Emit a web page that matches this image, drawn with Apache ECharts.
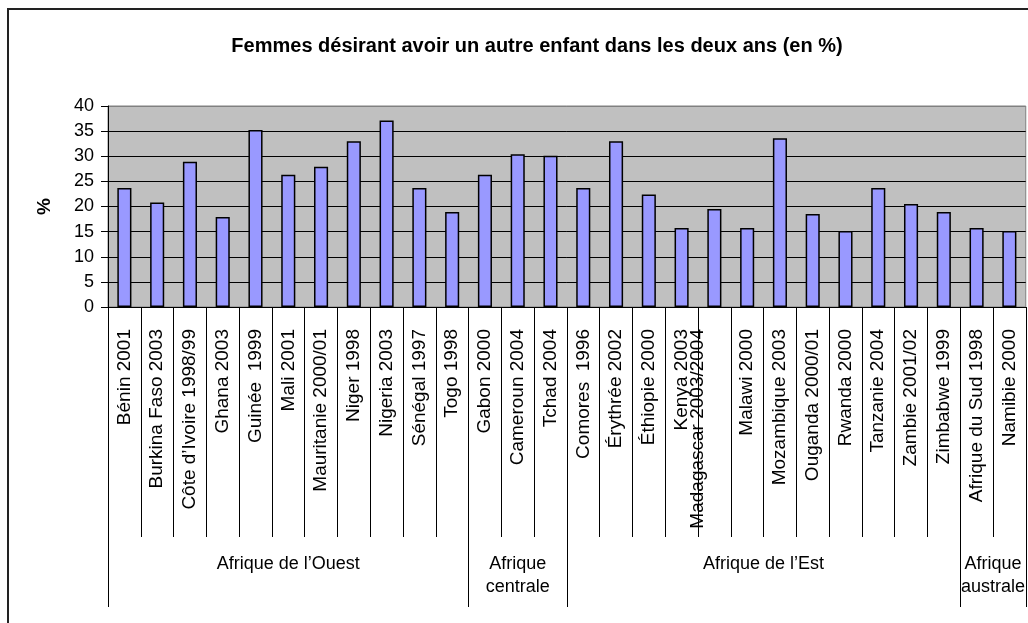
<!DOCTYPE html>
<html>
<head>
<meta charset="utf-8">
<script src="https://cdn.jsdelivr.net/npm/echarts@6/dist/echarts.min.js"></script>
<style>
  html, body { margin: 0; padding: 0; background: #fff; }
  #chart { width: 1028px; height: 623px; }
</style>
</head>
<body>
<div id="chart"></div>
<script>
const categories = [
  'Bénin 2001', 'Burkina Faso 2003', 'Côte d\u2019Ivoire 1998/99', 'Ghana 2003', 'Guinée  1999',
  'Mali 2001', 'Mauritanie 2000/01', 'Niger 1998', 'Nigeria 2003', 'Sénégal 1997', 'Togo 1998',
  'Gabon 2000', 'Cameroun 2004', 'Tchad 2004',
  'Comores  1996', 'Érythrée 2002', 'Éthiopie 2000', 'Kenya 2003', 'Madagascar 2003/2004',
  'Malawi 2000', 'Mozambique 2003', 'Ouganda 2000/01', 'Rwanda 2000', 'Tanzanie 2004',
  'Zambie 2001/02', 'Zimbabwe 1999',
  'Afrique du Sud 1998', 'Namibie 2000'
];
const values = [
  23.7, 20.8, 28.9, 17.9, 35.2, 26.3, 27.9, 33.0, 37.1, 23.7, 18.9,
  26.3, 30.4, 30.1,
  23.7, 33.0, 22.4, 15.7, 19.5, 15.7, 33.6, 18.5, 15.1, 23.7, 20.5, 18.9,
  15.7, 15.1
];
const groupNames = ['Afrique de l\u2019Ouest', 'Afrique\ncentrale', 'Afrique de l\u2019Est', 'Afrique\naustrale'];
const groupBounds = [0, 11, 14, 26, 28];
const groupCenters = [5.5, 12.5, 20, 27];
const catBounds = categories.map((c, i) => i).concat([categories.length]);
const yTicks = [0, 5, 10, 15, 20, 25, 30, 35, 40];

const font = 'Liberation Sans, Arial, sans-serif';
const chart = echarts.init(document.getElementById('chart'));

const option = {
  animation: false,
  title: {
    text: 'Femmes désirant avoir un autre enfant dans les deux ans (en %)',
    left: 532,
    textAlign: 'center',
    top: 31,
    textStyle: { fontFamily: font, fontSize: 20, fontWeight: 'bold', color: '#000' }
  },
  graphic: [{
    type: 'rect',
    shape: { x: 8, y: 9, width: 1100, height: 700 },
    style: { fill: 'none', stroke: '#222', lineWidth: 2 },
    silent: true
  }],
  grid: {
    left: 108, top: 106, right: 2, bottom: 316,
    containLabel: false,
    show: true,
    backgroundColor: '#C0C0C0',
    borderColor: '#808080',
    borderWidth: 1
  },
  xAxis: [
    {
      type: 'category',
      data: categories,
      axisLine: { show: true, lineStyle: { color: '#000', width: 1 } },
      axisTick: { show: false },
      axisLabel: {
        interval: 0,
        rotate: 90,
        margin: 22,
        fontFamily: font,
        fontSize: 19,
        color: '#000',
        formatter: v => v.indexOf('Madagascar') === 0 ? '{m|' + v + '}\n{m| }' : v,
        rich: { m: { fontFamily: font, fontSize: 19, color: '#000', lineHeight: 34 } }
      }
    },
    {
      // separators between the country labels
      type: 'value',
      position: 'bottom',
      min: 0,
      max: 28,
      axisLine: { show: false },
      splitLine: { show: false },
      axisTick: {
        show: true,
        customValues: catBounds,
        length: 230,
        lineStyle: { color: '#000', width: 1 }
      },
      axisLabel: { show: false }
    },
    {
      // region groups
      type: 'value',
      position: 'bottom',
      min: 0,
      max: 28,
      axisLine: { show: false },
      splitLine: { show: false },
      axisTick: {
        show: true,
        customValues: groupBounds,
        length: 300,
        lineStyle: { color: '#000', width: 1 }
      },
      axisLabel: {
        customValues: groupCenters,
        margin: 246,
        verticalAlign: 'top',
        fontFamily: font,
        fontSize: 18,
        lineHeight: 23,
        color: '#000',
        formatter: v => groupNames[groupCenters.indexOf(v)]
      }
    }
  ],
  yAxis: {
    type: 'value',
    min: 0,
    max: 40,
    interval: 5,
    name: '%',
    nameLocation: 'middle',
    nameRotate: 90,
    nameGap: 54,
    nameTextStyle: { fontFamily: font, fontSize: 19, fontWeight: 'bold', color: '#000' },
    axisLine: { show: true, lineStyle: { color: '#000', width: 1 } },
    axisTick: { show: true, length: 7, lineStyle: { color: '#000' } },
    axisLabel: {
      margin: 14,
      fontFamily: font,
      fontSize: 18,
      color: '#000',
      formatter: v => String(v)
    },
    splitLine: {
      show: true,
      lineStyle: { color: yTicks.map(t => t === 40 ? '#808080' : '#000'), width: 1 }
    }
  },
  series: [{
    type: 'bar',
    data: values,
    xAxisIndex: 0,
    barWidth: '43%',
    itemStyle: { color: '#9999FF', borderColor: '#000', borderWidth: 1.5 }
  }]
};

chart.setOption(option);
</script>
</body>
</html>
